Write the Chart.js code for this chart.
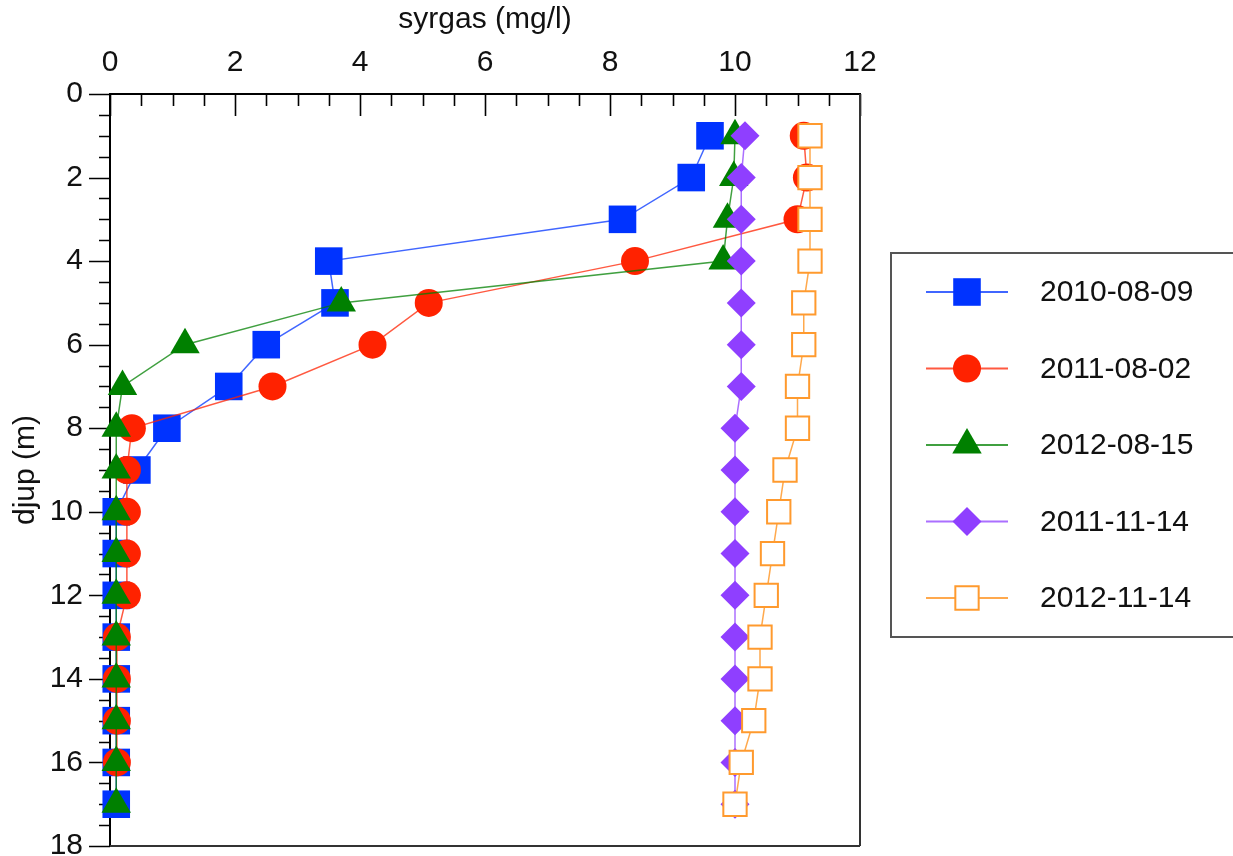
<!DOCTYPE html>
<html><head><meta charset="utf-8">
<script src="https://cdn.jsdelivr.net/npm/chart.js@4/dist/chart.umd.min.js"></script>
<style>html,body{margin:0;padding:0;background:#fff;overflow:hidden}canvas{display:block}</style>
</head><body>
<canvas id="c" width="1233" height="856"></canvas>
<script>
// ---- data ----
const depths = [1,2,3,4,5,6,7,8,9,10,11,12,13,14,15,16,17];
const seriesLabels = ['2010-08-09','2011-08-02','2012-08-15','2011-11-14','2012-11-14'];
const oxy_2010_08_09 = [9.6,9.3,8.2,3.5,3.6,2.5,1.9,0.91,0.43,0.1,0.1,0.1,0.1,0.1,0.1,0.1,0.1];
const oxy_2011_08_02 = [11.1,11.15,11.0,8.4,5.1,4.2,2.6,0.35,0.27,0.27,0.27,0.27,0.11,0.11,0.11,0.11];
const oxy_2012_08_15 = [10.0,9.98,9.88,9.81,3.7,1.2,0.2,0.1,0.1,0.1,0.1,0.1,0.1,0.1,0.1,0.1,0.1];
const oxy_2011_11_14 = [10.16,10.1,10.1,10.1,10.1,10.1,10.1,10.0,10.0,10.0,10.0,10.0,10.0,10.0,10.0,10.0,10.0];
const oxy_2012_11_14 = [11.2,11.2,11.2,11.2,11.1,11.1,11.0,11.0,10.8,10.7,10.6,10.5,10.4,10.4,10.3,10.1,10.0];
const xTickValues = [0,2,4,6,8,10,12];
const yTickValues = [0,2,4,6,8,10,12,14,16,18];
const xTitle = 'syrgas (mg/l)';
const yTitle = 'djup (m)';

const FONT = '"Liberation Sans", Arial, Helvetica, sans-serif';
const seriesValues = [oxy_2010_08_09, oxy_2011_08_02, oxy_2012_08_15, oxy_2011_11_14, oxy_2012_11_14];
const styles = [
  {color:'#0033ff', line:'rgba(0,51,255,0.75)', point:'rect', r:19.5, fill:'#0033ff', bw:0},
  {color:'#ff2200', line:'rgba(255,34,0,0.75)', point:'circle', r:14, fill:'#ff2200', bw:0},
  {color:'#008000', line:'rgba(0,128,0,0.75)', point:'triangle', r:17, fill:'#008000', bw:0},
  {color:'#8f3fff', line:'rgba(143,63,255,0.75)', point:'rectRot', r:14.5, fill:'#8f3fff', bw:0},
  {color:'#ff9a2e', line:'rgba(255,154,46,0.85)', point:'rect', r:16.5, fill:'#ffffff', bw:2}
];

const datasets = seriesValues.map((vals, i) => ({
  label: seriesLabels[i],
  data: vals.map((v, k) => ({x: v, y: depths[k]})),
  showLine: true,
  borderColor: styles[i].line,
  borderWidth: 1.5,
  backgroundColor: styles[i].fill,
  pointStyle: styles[i].point,
  pointRadius: styles[i].r,
  pointBackgroundColor: styles[i].fill,
  pointBorderColor: styles[i].color,
  pointBorderWidth: styles[i].bw,
  clip: false,
  order: 5 - i
}));

function drawMarker(ctx, st, x, y) {
  if (Chart.helpers && Chart.helpers.drawPoint) {
    ctx.save();
    ctx.fillStyle = st.fill;
    ctx.strokeStyle = st.color;
    ctx.lineWidth = st.bw;
    Chart.helpers.drawPoint(ctx, {pointStyle: st.point, rotation: 0, radius: st.r, borderWidth: st.bw}, x, y);
    ctx.restore();
  }
}

const zeroPad = () => ({left: 0, top: 0, right: 0, bottom: 0});
function fixScale(s, w, h) {
  if (w !== null) s.width = w;
  if (h !== null) s.height = h;
  s.paddingLeft = 0; s.paddingRight = 0; s.paddingTop = 0; s.paddingBottom = 0;
  s.getPadding = zeroPad;
}

const axesPlugin = {
  id: 'axesExtra',
  beforeDatasetsDraw(chart) {
    const {ctx, chartArea: a, scales: {x, y}} = chart;
    ctx.save();
    ctx.strokeStyle = '#000';
    ctx.lineWidth = 1.6;
    ctx.beginPath();
    for (let v = x.min; v <= x.max + 1e-9; v += 0.5) {
      const px = Math.round(x.getPixelForValue(v)) + 0.5;
      const len = (Math.abs(v % 2) < 1e-9) ? 22 : 12;
      ctx.moveTo(px, a.top); ctx.lineTo(px, a.top + len);
    }
    for (let v = y.min; v <= y.max + 1e-9; v += 0.5) {
      const py = Math.round(y.getPixelForValue(v)) + 0.5;
      const len = (Math.abs(v % 2) < 1e-9) ? 21 : 11;
      ctx.moveTo(a.left, py); ctx.lineTo(a.left - len, py);
    }
    ctx.stroke();
    ctx.strokeStyle = '#333';
    ctx.lineWidth = 2;
    ctx.beginPath();
    ctx.moveTo(a.right, a.top); ctx.lineTo(a.right, a.bottom);
    ctx.moveTo(a.left, a.bottom); ctx.lineTo(a.right, a.bottom);
    ctx.stroke();
    ctx.restore();
  },
  afterDraw(chart) {
    const ctx = chart.ctx;
    ctx.save();
    ctx.strokeStyle = '#555';
    ctx.lineWidth = 2;
    ctx.strokeRect(891, 253, 360, 384);
    const rowY0 = 292, rowStep = 76.5;
    chart.data.datasets.forEach((ds, i) => {
      const ry = rowY0 + i * rowStep;
      ctx.strokeStyle = styles[i].line;
      ctx.lineWidth = 2;
      ctx.beginPath();
      ctx.moveTo(926, ry); ctx.lineTo(1008, ry);
      ctx.stroke();
      drawMarker(ctx, styles[i], 967, ry);
      ctx.fillStyle = '#111';
      ctx.font = '30px ' + FONT;
      ctx.textAlign = 'left';
      ctx.textBaseline = 'middle';
      ctx.fillText(ds.label, 1040, ry + 1);
    });
    ctx.restore();
  }
};

new Chart(document.getElementById('c'), {
  type: 'scatter',
  data: {datasets},
  options: {
    responsive: false,
    animation: false,
    events: [],
    devicePixelRatio: 1,
    layout: {autoPadding: false, padding: {left: 0, top: 0, right: 373, bottom: 10}},
    plugins: {legend: {display: false}, tooltip: {enabled: false}},
    scales: {
      x: {
        type: 'linear', position: 'top', min: 0, max: 12,
        afterBuildTicks: s => { s.ticks = xTickValues.map(v => ({value: v})); },
        afterFit: s => fixScale(s, null, 94),
        ticks: {autoSkip: false, maxRotation: 0, padding: 13, color: '#111', font: {family: FONT, size: 30}},
        grid: {drawOnChartArea: false, drawTicks: false},
        border: {display: true, color: '#000', width: 2},
        title: {display: true, text: xTitle, color: '#111', font: {family: FONT, size: 30}, padding: {top: 2, bottom: 0}}
      },
      y: {
        type: 'linear', position: 'left', min: 0, max: 18, reverse: true,
        afterBuildTicks: s => { s.ticks = yTickValues.map(v => ({value: v})); },
        afterFit: s => fixScale(s, 110, null),
        ticks: {autoSkip: false, padding: 27, color: '#111', font: {family: FONT, size: 30}},
        grid: {drawOnChartArea: false, drawTicks: false},
        border: {display: true, color: '#000', width: 2},
        title: {display: true, text: yTitle, color: '#111', font: {family: FONT, size: 30}, padding: {top: 8, bottom: 0}}
      }
    }
  },
  plugins: [axesPlugin]
});
</script>
</body></html>
